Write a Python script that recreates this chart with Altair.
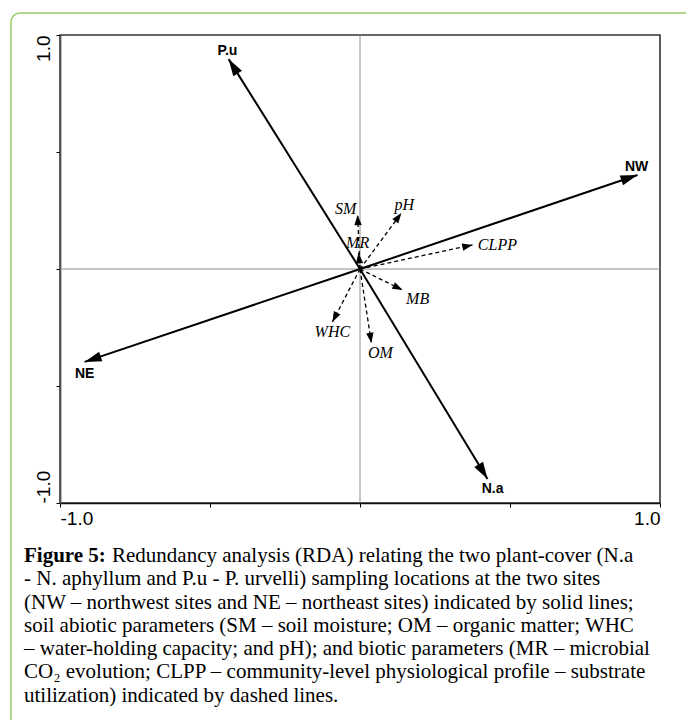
import altair as alt
import pandas as pd
import numpy as np

# ---------------- data ----------------
# solid vectors: plant cover and sites
site_names = ["P.u", "NW", "NE", "N.a"]
site_x = [-0.438, 0.925, -0.918, 0.425]
site_y = [0.897, 0.402, -0.397, -0.897]
site_label_x = [-0.442, 0.922, -0.918, 0.442]
site_label_y = [0.932, 0.436, -0.449, -0.940]

# dashed vectors: soil abiotic / biotic parameters
var_names = ["SM", "pH", "MR", "CLPP", "MB", "WHC", "OM"]
var_x = [-0.008, 0.138, -0.005, 0.375, 0.142, -0.092, 0.038]
var_y = [0.231, 0.239, 0.068, 0.103, -0.090, -0.226, -0.316]
var_label_x = [-0.048, 0.148, -0.008, 0.458, 0.192, -0.092, 0.068]
var_label_y = [0.256, 0.274, 0.111, 0.103, -0.128, -0.269, -0.359]

axis_ticks = [-1.0, -0.5, 0.0, 0.5, 1.0]
zero_line = [0.0]

caption_bold = "Figure 5:"
caption_first = "Redundancy analysis (RDA) relating the two plant-cover (N.a"
caption_lines = [
    "- N. aphyllum and P.u - P. urvelli) sampling locations at the two sites",
    "(NW \u2013 northwest sites and NE \u2013 northeast sites) indicated by solid lines;",
    "soil abiotic parameters (SM \u2013 soil moisture; OM \u2013 organic matter; WHC",
    "\u2013 water-holding capacity; and pH); and biotic parameters (MR \u2013 microbial",
    "CO\u2082 evolution; CLPP \u2013 community-level physiological profile \u2013 substrate",
    "utilization) indicated by dashed lines.",
]

# ---------------- layout ----------------
W, H = 600, 468
PAD = {"left": 60, "top": 35, "right": 26, "bottom": 217}


def vectors(names, xs, ys, lxs, lys):
    df = pd.DataFrame({"name": names, "x": xs, "y": ys, "lx": lxs, "ly": lys})
    df["x0"] = 0.0
    df["y0"] = 0.0
    ang = np.degrees(np.arctan2(np.array(xs) * W / 2, np.array(ys) * H / 2))
    df["angle"] = np.mod(ang, 360)
    return df


sites = vectors(site_names, site_x, site_y, site_label_x, site_label_y)
params = vectors(var_names, var_x, var_y, var_label_x, var_label_y)
zero_df = pd.DataFrame({"v": zero_line})
one_row = pd.DataFrame({"a": [0]})

xscale = alt.Scale(domain=[-1, 1], nice=False, zero=False)
yscale = alt.Scale(domain=[-1, 1], nice=False, zero=False)

x_axis = alt.Axis(
    values=axis_ticks, title=None, grid=False,
    labelExpr="datum.value == 1 ? '1.0' : datum.value == -1 ? '-1.0' : ''",
    labelFlush=True, labelOverlap=False,
    labelFont="Liberation Sans", labelFontSize=19, labelColor="black",
    labelPadding=2, tickSize=4, tickColor="black",
    domainColor="#111111", domainWidth=1.6,
)
y_axis = alt.Axis(
    values=axis_ticks, title=None, grid=False,
    labelExpr="datum.value == 1 ? '1.0' : datum.value == -1 ? '-1.0' : ''",
    labelAngle=270,
    labelAlign={"condition": {"test": "datum.value > 0", "value": "right"}, "value": "left"},
    labelBaseline="bottom", labelOverlap=False, labelFlush=False,
    labelFont="Liberation Sans", labelFontSize=19, labelColor="black",
    labelPadding=3, tickSize=4, tickColor="black",
    domainColor="#555555", domainWidth=1.8,
)


def X(field):
    return alt.X(field, type="quantitative", scale=xscale, axis=x_axis)


def Y(field):
    return alt.Y(field, type="quantitative", scale=yscale, axis=y_axis)


SOLID_HEAD = "M0,0L-0.3,1L0.3,1Z"
DASH_HEAD = "M0,0L-0.36,1L0.36,1Z"

border = alt.Chart(one_row).mark_rect(
    filled=False, stroke="#9CCB6B", strokeWidth=1.5, cornerRadius=9
).encode(
    x=alt.value(11 - PAD["left"]), y=alt.value(13 - PAD["top"]),
    x2=alt.value(720), y2=alt.value(760),
)

vline = alt.Chart(zero_df).mark_rule(color="#8c8c8c", strokeWidth=1).encode(x=X("v"))
hline = alt.Chart(zero_df).mark_rule(color="#8c8c8c", strokeWidth=1).encode(y=Y("v"))

site_lines = alt.Chart(sites).mark_rule(color="black", strokeWidth=2).encode(
    x=X("x0"), y=Y("y0"), x2="x:Q", y2="y:Q"
)
site_heads = alt.Chart(sites).mark_point(
    shape=SOLID_HEAD, filled=True, color="black", opacity=1, size=1156, strokeWidth=0
).encode(x=X("x"), y=Y("y"), angle=alt.Angle("angle:Q", scale=None))
site_text = alt.Chart(sites).mark_text(
    font="Liberation Sans", fontWeight="bold", fontSize=14, color="black",
    align="center", baseline="middle",
).encode(x=X("lx"), y=Y("ly"), text="name:N")

var_lines = alt.Chart(params).mark_rule(
    color="black", strokeWidth=1.3, strokeDash=[4, 3]
).encode(x=X("x0"), y=Y("y0"), x2="x:Q", y2="y:Q")
var_heads = alt.Chart(params).mark_point(
    shape=DASH_HEAD, filled=True, color="black", opacity=1, size=420, strokeWidth=0
).encode(x=X("x"), y=Y("y"), angle=alt.Angle("angle:Q", scale=None))
var_text = alt.Chart(params).mark_text(
    font="Liberation Serif", fontStyle="italic", fontSize=16, color="black",
    align="center", baseline="middle",
).encode(x=X("lx"), y=Y("ly"), text="name:N")

cap_bold = alt.Chart(one_row).mark_text(
    font="Liberation Serif", fontWeight="bold", fontSize=21, color="black",
    align="left", baseline="alphabetic",
).encode(x=alt.value(24 - PAD["left"]), y=alt.value(562 - PAD["top"]), text=alt.value(caption_bold))
cap_first = alt.Chart(one_row).mark_text(
    font="Liberation Serif", fontSize=21, color="black",
    align="left", baseline="alphabetic",
).encode(x=alt.value(112 - PAD["left"]), y=alt.value(562 - PAD["top"]), text=alt.value(caption_first))
cap_rest = alt.Chart(one_row).mark_text(
    font="Liberation Serif", fontSize=21, color="black",
    align="left", baseline="alphabetic", lineHeight=23.3,
).encode(x=alt.value(24 - PAD["left"]), y=alt.value(585.3 - PAD["top"]), text=alt.value(caption_lines))

chart = alt.layer(
    border, vline, hline,
    var_lines, var_heads, var_text,
    site_lines, site_heads, site_text,
    cap_bold, cap_first, cap_rest,
).properties(
    width=W, height=H, padding=PAD,
    autosize=alt.AutoSizeParams(type="none"),
    background="white",
).configure_view(stroke="#333333", strokeWidth=1.6)

chart.save("out.html", embed_options={"renderer": "svg", "actions": False})
